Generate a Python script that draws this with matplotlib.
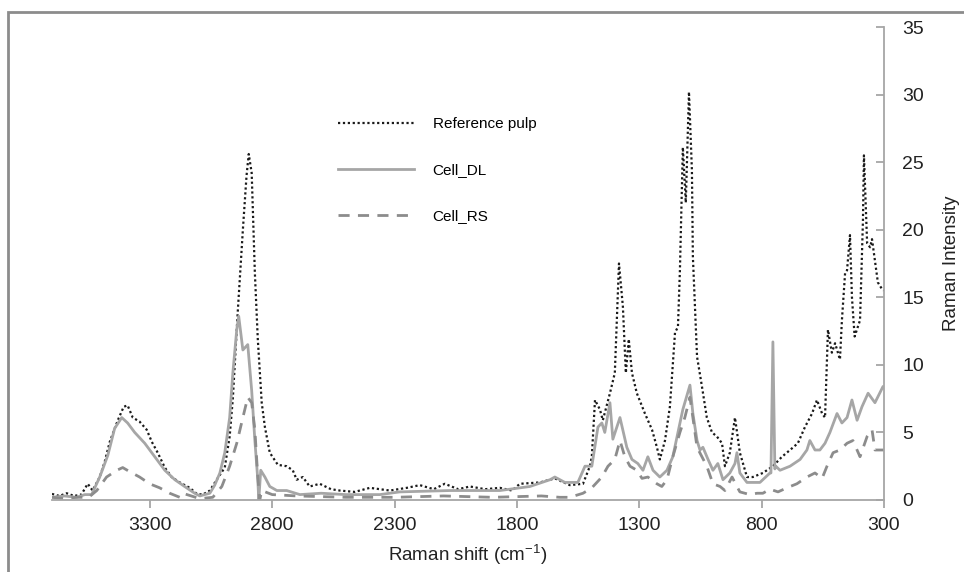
import numpy as np
import matplotlib
matplotlib.use("Agg")
import matplotlib.pyplot as plt
from matplotlib.patches import Rectangle

plt.rcParams["font.family"] = ["Liberation Sans", "DejaVu Sans"]
plt.rcParams["mathtext.default"] = "regular"

# Reference pulp (wavenumber, intensity)
ref_x = [3700, 3670, 3640, 3610, 3580, 3554, 3534, 3505, 3485, 3464, 3431, 3407, 3391,
         3370, 3342, 3313, 3292, 3268, 3239, 3211, 3178, 3137, 3108, 3084, 3055, 3027,
         2994, 2974, 2961, 2941, 2920, 2905, 2896, 2884, 2871, 2859, 2843, 2830, 2810,
         2777, 2741, 2716, 2700, 2675, 2647, 2606, 2560, 2524, 2463, 2401, 2319, 2250,
         2197, 2140, 2095, 2040, 1992, 1930, 1870, 1820, 1788, 1706, 1645, 1584, 1530,
         1502, 1494, 1481, 1461, 1449, 1420, 1400, 1383, 1367, 1355, 1343, 1330, 1310,
         1277, 1248, 1228, 1216, 1195, 1175, 1154, 1142, 1134, 1122, 1110, 1097, 1085,
         1081, 1064, 1044, 1024, 1003, 983, 962, 950, 930, 909, 889, 860, 836, 795, 754,
         717, 684, 652, 623, 594, 574, 553, 541, 529, 513, 500, 480, 472, 459, 451, 439,
         431, 420, 398, 386, 382, 369, 357, 349, 325, 308, 300]
ref_y = [0.45, 0.3, 0.5, 0.3, 0.4, 1.2, 0.7, 1.7, 2.8, 4.3, 5.9, 6.9, 7.0,
         6.1, 5.8, 5.2, 4.3, 3.5, 2.4, 1.7, 1.3, 0.9, 0.45, 0.4, 0.7, 1.5,
         2.4, 4.7, 7.5, 13.9, 20.0, 24.0, 25.6, 24.2, 16.8, 11.9, 7.2, 5.4, 3.5,
         2.6, 2.5, 2.2, 1.5, 1.7, 1.0, 1.2, 0.8, 0.7, 0.6, 0.9, 0.7, 0.9,
         1.1, 0.8, 1.2, 0.8, 1.0, 0.8, 0.9, 0.7, 1.2, 1.3, 1.6, 1.1, 1.2,
         2.5, 3.2, 7.4, 6.7, 5.9, 7.9, 9.4, 17.5, 14.3, 9.4, 11.9, 9.4, 7.9,
         6.4, 5.2, 3.9, 3.0, 4.4, 6.9, 12.4, 12.8, 17.0, 26.1, 22.0, 30.2, 24.4,
         18.0, 10.6, 8.4, 6.1, 5.0, 4.7, 4.2, 2.5, 3.5, 6.1, 3.5, 1.7, 1.7, 2.0, 2.5,
         3.2, 3.7, 4.2, 5.4, 6.4, 7.4, 6.4, 6.1, 12.6, 10.9, 11.6, 10.4, 13.3, 16.8, 17.0, 19.6,
         15.0, 12.1, 13.3, 20.7, 25.5, 19.0, 18.7, 19.3, 16.1, 15.6, 15.5]

# Cell_DL
dl_x = [3700, 3650, 3600, 3566, 3538, 3505, 3472, 3444, 3415, 3391, 3362, 3321, 3280,
        3239, 3198, 3158, 3117, 3096, 3076, 3055, 3035, 3014, 2994, 2974, 2961, 2945,
        2937, 2920, 2900, 2884, 2871, 2859, 2855, 2847, 2830, 2810, 2781, 2741, 2687,
        2600, 2500, 2360, 2279, 2074, 1870, 1747, 1665, 1645, 1604, 1551, 1522, 1494,
        1469, 1453, 1441, 1420, 1408, 1379, 1351, 1330, 1306, 1285, 1265, 1244, 1216,
        1187, 1163, 1142, 1122, 1093, 1081, 1064, 1052, 1040, 1019, 999, 979, 958, 930,
        909, 901, 889, 860, 807, 766, 762, 754, 746, 742, 725, 684, 643, 615, 603, 582,
        562, 541, 521, 492, 472, 451, 431, 410, 390, 365, 337, 304, 300]
dl_y = [0.2, 0.3, 0.2, 0.4, 0.4, 1.7, 3.3, 5.3, 6.1, 5.7, 5.0, 4.2, 3.2,
        2.2, 1.5, 1.0, 0.5, 0.3, 0.4, 0.5, 1.1, 2.0, 3.5, 6.1, 9.4, 12.6,
        13.6, 11.1, 11.5, 8.1, 4.4, 1.5, 0.0, 2.2, 1.7, 1.0, 0.7, 0.7, 0.4,
        0.5, 0.4, 0.4, 0.6, 0.7, 0.7, 1.0, 1.5, 1.7, 1.3, 1.3, 2.5, 2.5,
        5.4, 5.7, 5.0, 7.2, 4.5, 6.1, 3.9, 3.0, 2.7, 2.2, 3.2, 2.2, 1.7,
        2.2, 3.2, 5.0, 6.7, 8.5, 6.4, 4.4, 3.7, 3.9, 3.0, 2.2, 2.7, 1.5, 2.0,
        2.7, 3.5, 2.0, 1.3, 1.3, 2.0, 2.0, 11.7, 2.3, 2.5, 2.2, 2.5, 3.0, 3.7, 4.4, 3.7,
        3.7, 4.2, 5.0, 6.4, 5.7, 6.1, 7.4, 5.9, 6.9, 7.9, 7.2, 8.4, 8.3]

# Cell_RS
rs_x = [3700, 3650, 3600, 3550, 3517, 3477, 3435, 3411, 3383, 3342, 3301, 3260, 3219,
        3178, 3166, 3096, 3043, 3006, 2974, 2945, 2920, 2900, 2884, 2871, 2859, 2851,
        2843, 2800, 2700, 2500, 2300, 2100, 1900, 1700, 1625, 1584, 1530, 1494, 1453,
        1428, 1400, 1379, 1359, 1338, 1310, 1289, 1265, 1228, 1208, 1187, 1163, 1134,
        1114, 1093, 1081, 1064, 1044, 1024, 999, 970, 950, 921, 901, 889, 848, 819, 795,
        766, 733, 697, 656, 615, 582, 553, 533, 508, 480, 451, 427, 398, 369, 349, 337,
        304, 300]
rs_y = [0.2, 0.1, 0.2, 0.2, 0.7, 1.7, 2.2, 2.4, 2.1, 1.7, 1.2, 0.9, 0.5,
        0.2, 0.5, 0.1, 0.2, 1.0, 2.5, 4.2, 6.1, 7.6, 7.2, 5.2, 1.7, 0.0,
        0.7, 0.4, 0.3, 0.2, 0.2, 0.3, 0.2, 0.3, 0.2, 0.2, 0.5, 0.9, 1.7,
        2.5, 3.0, 4.4, 3.2, 2.5, 2.2, 1.6, 1.7, 1.2, 1.0, 1.5, 3.2, 5.0,
        6.1, 7.6, 6.1, 3.9, 3.2, 2.5, 1.2, 1.0, 0.7, 1.7, 1.0, 0.6, 0.4, 0.5, 0.5,
        0.8, 0.6, 0.9, 1.2, 1.7, 2.0, 1.6, 2.5, 3.5, 3.7, 4.2, 4.4, 3.2, 4.7, 5.2, 3.7,
        3.7, 3.7]

xticks = [3300, 2800, 2300, 1800, 1300, 800, 300]
yticks = [0, 5, 10, 15, 20, 25, 30, 35]

axis_grey = "#a6a6a6"

fig = plt.figure(figsize=(9.64, 5.72), dpi=100)
ax = fig.add_axes([52 / 964, 1 - 500 / 572, 832 / 964, 473 / 572])

ax.plot(ref_x, ref_y, color="#1a1a1a", linestyle=(0, (1, 1.2)), linewidth=1.6,
        label="Reference pulp")
ax.plot(dl_x, dl_y, color="#a6a6a6", linestyle="-", linewidth=2.0, label="Cell_DL")
ax.plot(rs_x, rs_y, color="#8c8c8c", linestyle=(0, (4, 3)), linewidth=2.0,
        label="Cell_RS")

ax.set_xlim(3700, 300)
ax.set_ylim(0, 35)
ax.set_xticks(xticks)
ax.set_yticks(yticks)

ax.spines["top"].set_visible(False)
ax.spines["left"].set_visible(False)
ax.spines["right"].set_color(axis_grey)
ax.spines["bottom"].set_color(axis_grey)
ax.spines["right"].set_linewidth(1.3)
ax.spines["bottom"].set_linewidth(1.3)

ax.yaxis.tick_right()
ax.yaxis.set_label_position("right")
ax.tick_params(axis="y", direction="in", length=6, width=1.3, color=axis_grey,
               labelsize=14, pad=13, labelcolor="#222222")
ax.tick_params(axis="x", direction="out", length=6, width=1.3, color=axis_grey,
               labelsize=14, pad=6, labelcolor="#222222")

ax.set_xlabel("Raman shift (cm$^{-1}$)", fontsize=13.5, color="#222222", labelpad=7)
ax.set_ylabel("Raman Intensity", fontsize=13.5, color="#222222", labelpad=14)

ax.legend(loc="upper left", bbox_to_anchor=(338 / 964, 1 - 117 / 572),
          bbox_transform=fig.transFigure, frameon=False, fontsize=11,
          handlelength=5.0, handletextpad=1.2, labelspacing=2.1,
          borderpad=0, borderaxespad=0)

fig.add_artist(Rectangle((8 / 964, -0.1), 1.2, 1.1 - 12 / 572,
                         transform=fig.transFigure, fill=False,
                         edgecolor="#8c8c8c", linewidth=2.0))

fig.savefig("out.png", dpi=100)
